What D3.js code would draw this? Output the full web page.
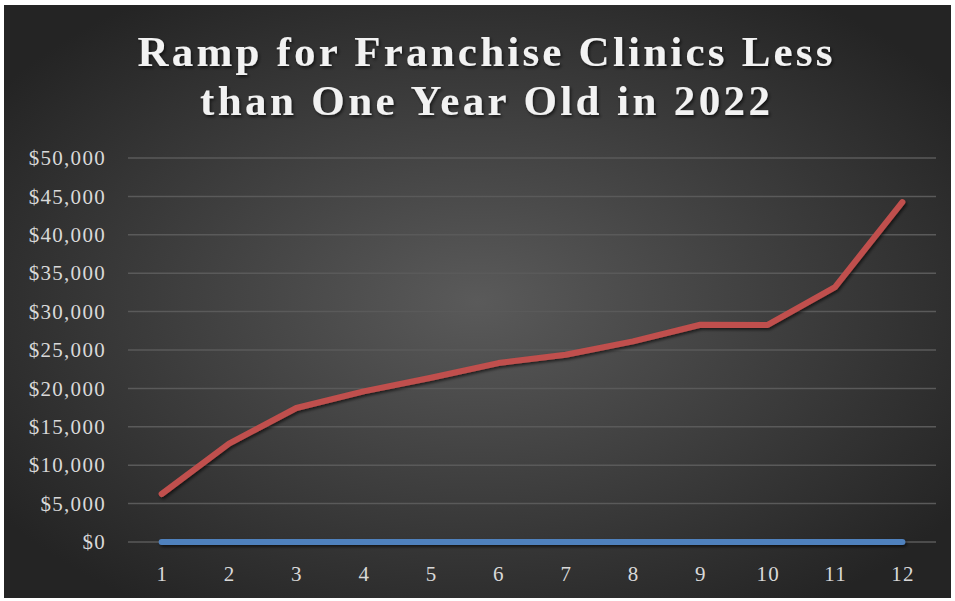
<!DOCTYPE html>
<html>
<head>
<meta charset="utf-8">
<script src="https://cdn.jsdelivr.net/npm/d3@7"></script>
<style>
  body { margin: 0; background: #fff; }
</style>
</head>
<body>
<div id="chart"></div>
<script>
var svgWidth = 955;
var svgHeight = 601;

var months = ["1", "2", "3", "4", "5", "6", "7", "8", "9", "10", "11", "12"];
var rampValues = [6250, 12800, 17450, 19620, 21380, 23300, 24390, 26120, 28290, 28260, 33200, 44250];
var baseValues = [0, 0, 0, 0, 0, 0, 0, 0, 0, 0, 0, 0];
var yTicks = [0, 5000, 10000, 15000, 20000, 25000, 30000, 35000, 40000, 45000, 50000];
var titleLines = ["Ramp for Franchise Clinics Less", "than One Year Old in 2022"];

var margin = { top: 158, right: 19, bottom: 59, left: 128 };
var width = svgWidth - margin.left - margin.right;
var height = svgHeight - margin.top - margin.bottom;

var svg = d3.select("#chart")
  .append("svg")
  .attr("width", svgWidth)
  .attr("height", svgHeight);

var defs = svg.append("defs");
var grad = defs.append("radialGradient")
  .attr("id", "bg")
  .attr("cx", "50%").attr("cy", "50%").attr("r", "62%");
grad.append("stop").attr("offset", "0%").attr("stop-color", "#5a5a5a");
grad.append("stop").attr("offset", "100%").attr("stop-color", "#242424");

// shadow in user space so the flat zero line still renders
var shadow = defs.append("filter").attr("id", "shadow")
  .attr("filterUnits", "userSpaceOnUse")
  .attr("x", 0).attr("y", 0).attr("width", svgWidth).attr("height", svgHeight);
shadow.append("feDropShadow")
  .attr("dx", 1.5).attr("dy", 2).attr("stdDeviation", 1.5)
  .attr("flood-color", "#000").attr("flood-opacity", 0.6);

svg.append("rect")
  .attr("x", 4).attr("y", 5)
  .attr("width", 947).attr("height", 593)
  .attr("fill", "url(#bg)");

// title
var titleWidths = [695, 570];
svg.append("g").selectAll("text")
  .data(titleLines)
  .enter()
  .append("text")
  .attr("x", 485)
  .attr("y", (d, i) => 66 + i * 49)
  .attr("text-anchor", "middle")
  .attr("fill", "#f2f2f2")
  .attr("font-family", "Liberation Serif, serif")
  .attr("font-weight", "bold")
  .attr("font-size", 43)
  .attr("textLength", (d, i) => titleWidths[i])
  .attr("lengthAdjust", "spacing")
  .attr("filter", "url(#shadow)")
  .text(d => d);

var chartGroup = svg.append("g")
  .attr("transform", `translate(${margin.left}, ${margin.top})`);

var xScale = d3.scaleBand()
  .domain(months)
  .range([0, width]);

var yScale = d3.scaleLinear()
  .domain([0, 50000])
  .range([height, 0]);

// gridlines
chartGroup.append("g")
  .selectAll("line")
  .data(yTicks)
  .enter()
  .append("line")
  .attr("x1", 0).attr("x2", width)
  .attr("y1", d => yScale(d)).attr("y2", d => yScale(d))
  .attr("stroke", "#5a5a5a")
  .attr("stroke-width", 1.5);

var leftAxis = d3.axisLeft(yScale)
  .tickValues(yTicks)
  .tickSize(0)
  .tickPadding(22)
  .tickFormat(d => "$" + d3.format(",")(d));

var yAxis = chartGroup.append("g").call(leftAxis);
yAxis.select(".domain").remove();
yAxis.selectAll("text")
  .attr("fill", "#d9d9d9")
  .attr("font-family", "Liberation Serif, serif")
  .attr("font-size", 21)
  .attr("letter-spacing", 1.3);

var bottomAxis = d3.axisBottom(xScale)
  .tickSize(0)
  .tickPadding(24);

var xAxis = chartGroup.append("g")
  .attr("transform", `translate(0, ${height})`)
  .call(bottomAxis);
xAxis.select(".domain").remove();
xAxis.selectAll("text")
  .attr("fill", "#d9d9d9")
  .attr("font-family", "Liberation Serif, serif")
  .attr("font-size", 21)
  .attr("letter-spacing", 1.3)
  .attr("dx", 0.65);

var line = d3.line()
  .x((d, i) => xScale(months[i]) + xScale.bandwidth() / 2)
  .y(d => yScale(d));

chartGroup.append("path")
  .datum(baseValues)
  .attr("d", line)
  .attr("fill", "none")
  .attr("stroke", "#4f81bd")
  .attr("stroke-width", 6)
  .attr("stroke-linecap", "round")
  .attr("stroke-linejoin", "round")
  .attr("filter", "url(#shadow)");

chartGroup.append("path")
  .datum(rampValues)
  .attr("d", line)
  .attr("fill", "none")
  .attr("stroke", "#c0504d")
  .attr("stroke-width", 6)
  .attr("stroke-linecap", "round")
  .attr("stroke-linejoin", "round")
  .attr("filter", "url(#shadow)");
</script>
</body>
</html>
